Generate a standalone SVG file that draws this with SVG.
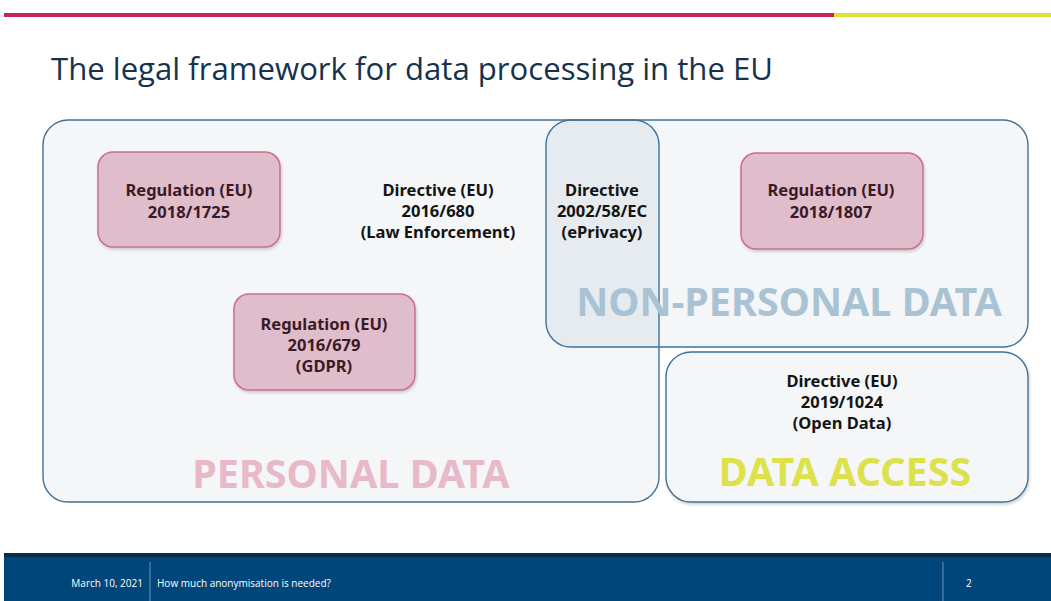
<svg xmlns="http://www.w3.org/2000/svg" width="1051" height="601" viewBox="0 0 1051 601">
<defs>
<style>
.t{font-family:"Noto Sans","Open Sans","Liberation Sans",sans-serif;font-weight:bold;font-size:16.5px;text-anchor:middle;fill:#141414}
.tp{fill:#3a1a26}
.big{font-family:"Noto Sans","Open Sans","Liberation Sans",sans-serif;font-weight:bold;font-size:39.5px}
.reg{fill:#dfbdcb;stroke:#cc6d8f;stroke-width:1.5}
.frame{fill:none;stroke:#3f7199;stroke-width:1.4}
.ft{font-family:"Open Sans","Liberation Sans",sans-serif;font-size:10px;fill:#ffffff}
</style>
<clipPath id="pclip"><rect x="43" y="120" width="616" height="382" rx="25"/></clipPath>
<filter id="sh" x="-10%" y="-10%" width="130%" height="140%"><feDropShadow dx="1" dy="2" stdDeviation="1.5" flood-color="#000" flood-opacity="0.18"/></filter>
</defs>
<rect width="1051" height="601" fill="#ffffff"/>
<rect x="4" y="13" width="830" height="4" fill="#c9245a"/>
<rect x="834" y="13" width="217" height="4" fill="#dde233"/>
<text x="51" y="80" font-family="Open Sans,Noto Sans,Liberation Sans,sans-serif" font-size="31" fill="#16324d" textLength="722" lengthAdjust="spacingAndGlyphs">The legal framework for data processing in the EU</text>

<g id="personal-data">
<rect x="43" y="120" width="616" height="382" rx="25" fill="#f4f6f8"/>
</g>
<g id="non-personal-data">
<rect x="546" y="120" width="482" height="227" rx="25" fill="#f4f6f8"/>
</g>
<g id="eprivacy-overlap">
<rect x="546" y="120" width="482" height="227" rx="25" fill="#e5ebef" clip-path="url(#pclip)"/>
</g>
<g id="data-access">
<rect x="666" y="352" width="362" height="150" rx="25" fill="#f4f6f8" stroke="#3f7199" stroke-width="1.4" filter="url(#sh)"/>
</g>
<g id="frames">
<rect x="43" y="120" width="616" height="382" rx="25" class="frame"/>
<rect x="546" y="120" width="482" height="227" rx="25" class="frame"/>
</g>

<text class="big" x="351" y="488" text-anchor="middle" fill="#e8b9c9">PERSONAL DATA</text>
<text class="big" x="789" y="316" text-anchor="middle" fill="#a9c3d5">NON-PERSONAL DATA</text>
<text class="big" x="845" y="486" text-anchor="middle" fill="#dde24c">DATA ACCESS</text>

<g id="reg-2018-1725">
<rect x="98" y="152" width="182" height="95" rx="15" class="reg" filter="url(#sh)"/>
<text class="t tp" x="189" y="196">Regulation (EU)</text>
<text class="t tp" x="189" y="218">2018/1725</text>
</g>
<g id="dir-2016-680">
<text class="t" x="438" y="196">Directive (EU)</text>
<text class="t" x="438" y="217">2016/680</text>
<text class="t" x="438" y="238">(Law Enforcement)</text>
</g>
<g id="dir-2002-58">
<text class="t" x="602" y="196">Directive</text>
<text class="t" x="602" y="217">2002/58/EC</text>
<text class="t" x="602" y="238">(ePrivacy)</text>
</g>
<g id="reg-2018-1807">
<rect x="741" y="153" width="182" height="96" rx="15" class="reg" filter="url(#sh)"/>
<text class="t tp" x="831" y="196">Regulation (EU)</text>
<text class="t tp" x="831" y="218">2018/1807</text>
</g>
<g id="reg-2016-679">
<rect x="234" y="294" width="181" height="96" rx="15" class="reg" filter="url(#sh)"/>
<text class="t tp" x="324" y="330">Regulation (EU)</text>
<text class="t tp" x="324" y="351">2016/679</text>
<text class="t tp" x="324" y="372">(GDPR)</text>
</g>
<g id="dir-2019-1024">
<text class="t" x="842" y="387">Directive (EU)</text>
<text class="t" x="842" y="408">2019/1024</text>
<text class="t" x="842" y="429">(Open Data)</text>
</g>

<g id="footer">
<rect x="4" y="553" width="1047" height="48" fill="#00467a"/>
<rect x="4" y="553" width="1047" height="4" fill="#0b2c48"/>
<line x1="150" y1="562" x2="150" y2="601" stroke="#ffffff" stroke-width="0.6" opacity="0.7"/>
<line x1="943" y1="562" x2="943" y2="601" stroke="#ffffff" stroke-width="0.6" opacity="0.7"/>
<text class="ft" x="143" y="587" text-anchor="end">March 10, 2021</text>
<text class="ft" x="157" y="587">How much anonymisation is needed?</text>
<text class="ft" x="966" y="587">2</text>
</g>
</svg>
